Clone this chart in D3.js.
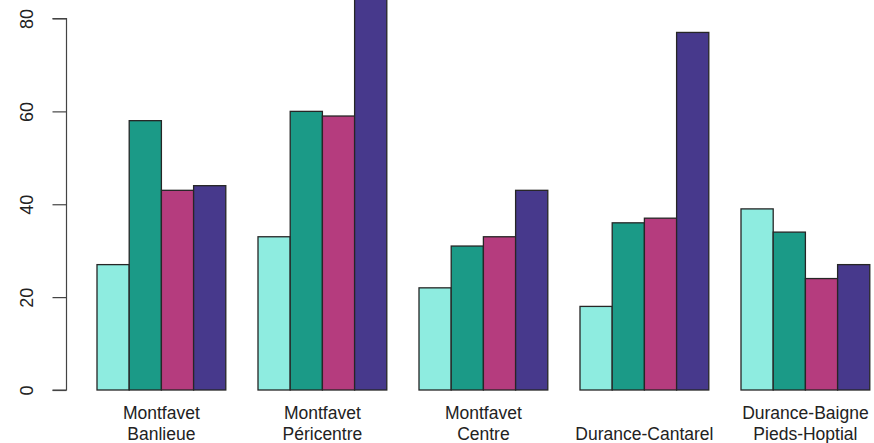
<!DOCTYPE html>
<html><head><meta charset="utf-8">
<script src="https://cdn.jsdelivr.net/npm/d3@7"></script>
<style>body{margin:0;background:#fff}svg{display:block}</style>
</head><body>
<script>
const categories = [["Montfavet","Banlieue"],["Montfavet","Péricentre"],["Montfavet","Centre"],["Durance-Cantarel"],["Durance-Baigne","Pieds-Hoptial"]];
const seriesNames = ["s1","s2","s3","s4"];
const s1 = [27, 33, 22, 18, 39];
const s2 = [58, 60, 31, 36, 34];
const s3 = [43, 59, 33, 37, 24];
const s4 = [44, 90, 43, 77, 27];
const yTicks = [0, 20, 40, 60, 80];
const colors = ["#8eece0", "#1b9a87", "#b53c7e", "#47398c"];

const W = 874, H = 443;
const svg = d3.select("body").append("svg").attr("width", W).attr("height", H);
const series = [s1, s2, s3, s4];
const y = d3.scaleLinear().domain([0, 80]).range([390, 18.5]);
const x0 = d3.scaleBand().domain(d3.range(categories.length)).range([97, 869.8]).paddingInner(0.2).paddingOuter(0);
const x1 = d3.scaleBand().domain(d3.range(seriesNames.length)).range([0, x0.bandwidth()]);

const g = svg.append("g");
categories.forEach((c, i) => {
  series.forEach((s, j) => {
    g.append("rect")
      .attr("x", x0(i) + x1(j))
      .attr("y", y(s[i]))
      .attr("width", x1.bandwidth())
      .attr("height", y(0) - y(s[i]))
      .attr("fill", colors[j])
      .attr("stroke", "#262626")
      .attr("stroke-width", 1.3);
  });
});

// y axis
const ax = svg.append("g").attr("transform", "translate(66.5,0)")
  .call(d3.axisLeft(y).tickValues(yTicks).tickSize(14).tickFormat(d3.format("d")));
ax.select(".domain").attr("stroke", "#444").attr("stroke-width", 1.2).attr("d", `M-14,${y(0)}H0V${y(80)}H-14`);
ax.selectAll(".tick line").attr("stroke", "#444").attr("stroke-width", 1.2);
ax.selectAll(".tick text").attr("fill", "#222").style("font-family", "'Liberation Sans', Arial, sans-serif")
  .style("font-size", "18px")
  .attr("x", null).attr("dy", null)
  .attr("text-anchor", "middle")
  .attr("transform", "translate(-34,0) rotate(-90)");

// x labels
categories.forEach((c, i) => {
  const cx = x0(i) + x0.bandwidth() / 2;
  const t = svg.append("text").attr("text-anchor", "middle")
    .style("font-family", "'Liberation Sans', Arial, sans-serif").style("font-size", "17.5px").attr("fill", "#222");
  const base = 440;
  c.forEach((line, k) => {
    t.append("tspan").attr("x", cx).attr("y", base - (c.length - 1 - k) * 21).text(line);
  });
});
</script>
</body></html>
